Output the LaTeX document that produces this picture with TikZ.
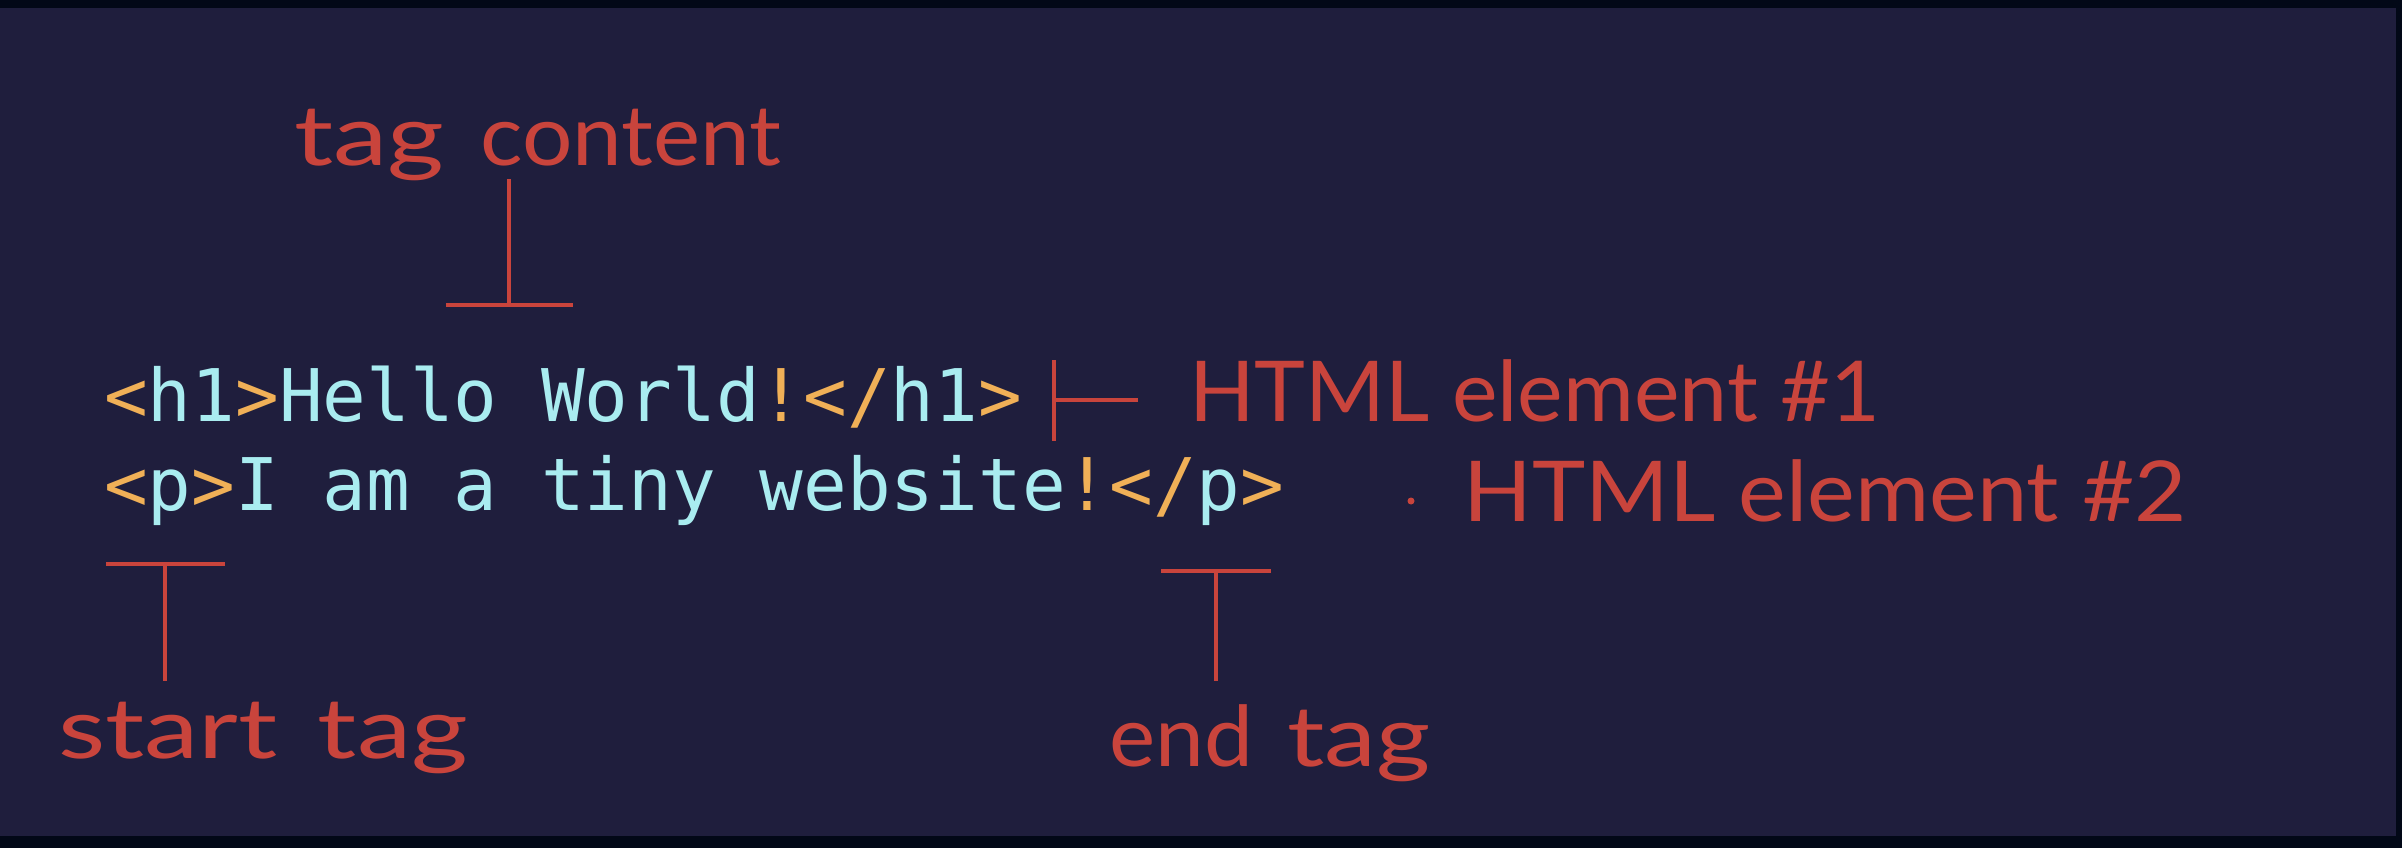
\documentclass[tikz,border=0pt]{standalone}
\usepackage{fontspec}
\setmonofont{DejaVu Sans Mono}
\newfontfamily\handfont{Lato}
\definecolor{framedark}{HTML}{020817}
\definecolor{panelbg}{HTML}{1F1E3D}
\definecolor{codecyan}{HTML}{A9ECF0}
\definecolor{codeorange}{HTML}{F0B057}
\definecolor{annred}{HTML}{C9443C}
\newcommand\orng[1]{\textcolor{codeorange}{#1}}
\newcommand\widen[2]{\scalebox{#1}[1]{#2}}
\tikzset{
  codetext/.style={inner sep=0pt, anchor=base west, text=codecyan, font=\fontsize{72.6}{80}\selectfont\ttfamily},
  annlabel/.style={inner sep=0pt, anchor=base west, text=annred, font=\fontsize{84}{90}\selectfont\handfont},
  annline/.style={draw=annred, line width=4pt},
}
\begin{document}
\begin{tikzpicture}[x=1pt,y=-1pt]
\fill[framedark] (0,0) rectangle (2402,848);
\fill[panelbg] (0,8) rectangle (2396,836);
\useasboundingbox (0,0) rectangle (2402,848);

% code lines
\node[codetext] (line1) at (104,421) {\orng{<}h1\orng{>}Hello World\orng{!}\orng{</}h1\orng{>}};
\node[codetext] (line2) at (104,510) {\orng{<}p\orng{>}I am a tiny website\orng{!}\orng{</}p\orng{>}};

% labels
\node[annlabel] (tagcontent) at (294,165) {\widen{1.3}{tag}\hspace{36pt}\widen{1.06}{content}};
\node[annlabel] (elem1) at (1189,421) {\widen{1.025}{HTML element \#1}};
\node[annlabel] (elem2) at (1463,521) {\widen{1.074}{HTML element \#2}};
\node[annlabel] (starttag) at (58,758) {\widen{1.3}{start}\hspace{40pt}\widen{1.3}{tag}};
\node[annlabel] (endtag) at (1109,766) {\widen{1.04}{end}\hspace{34pt}\widen{1.24}{tag}};

% tag content marker
\coordinate (tcTop) at (509,179);
\coordinate (tcBot) at (509,305);
\coordinate (tcL) at (446,305);
\coordinate (tcR) at (573,305);
\draw[annline] (tcTop) -- (tcBot);
\draw[annline] (tcL) -- (tcR);

% element #1 marker
\coordinate (e1Top) at (1054,360);
\coordinate (e1Bot) at (1054,441);
\coordinate (e1Mid) at (1054,400);
\coordinate (e1End) at (1138,400);
\draw[annline] (e1Top) -- (e1Bot);
\draw[annline] (e1Mid) -- (e1End);

% element #2 dot
\fill[annred] (1411,501) circle (3.5pt);

% start tag marker
\coordinate (stL) at (106,564);
\coordinate (stR) at (225,564);
\coordinate (stTop) at (165,564);
\coordinate (stBot) at (165,681);
\draw[annline] (stL) -- (stR);
\draw[annline] (stTop) -- (stBot);

% end tag marker
\coordinate (etL) at (1161,571);
\coordinate (etR) at (1271,571);
\coordinate (etTop) at (1216,571);
\coordinate (etBot) at (1216,681);
\draw[annline] (etL) -- (etR);
\draw[annline] (etTop) -- (etBot);
\end{tikzpicture}
\end{document}
